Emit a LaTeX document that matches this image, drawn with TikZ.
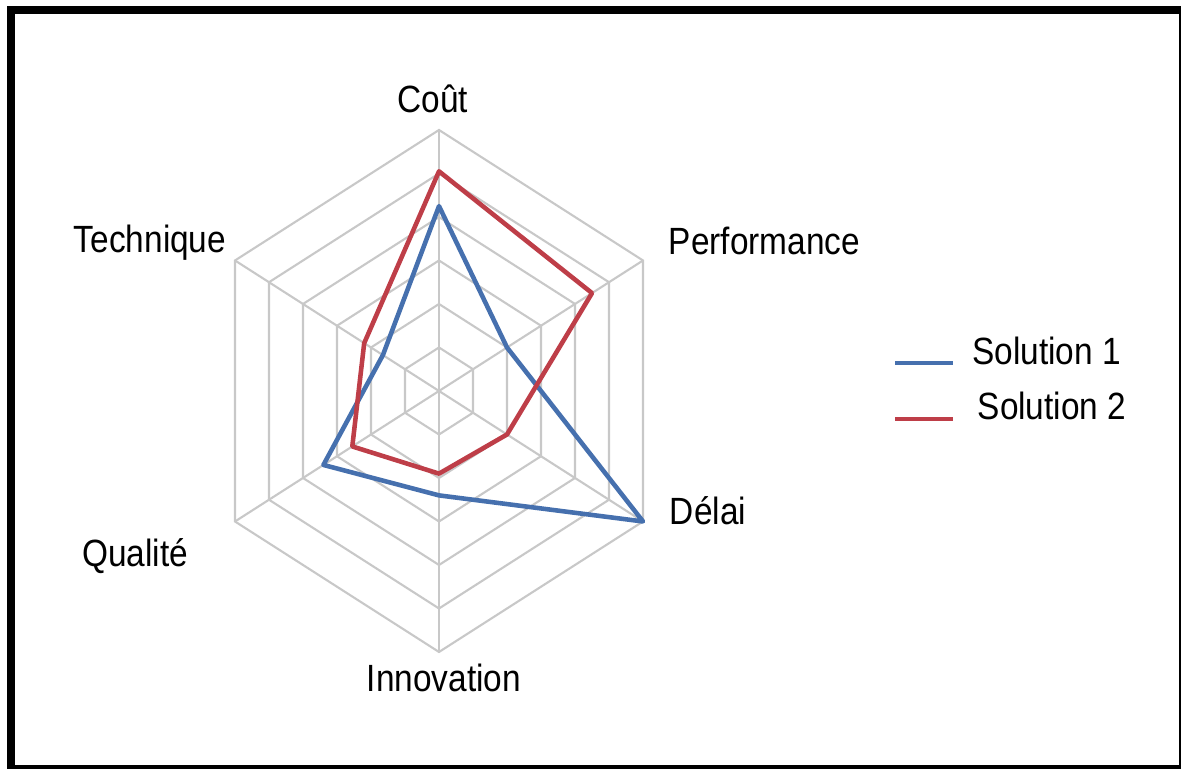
\documentclass[tikz,border=0pt]{standalone}
\usepackage{fontspec}
\setmainfont{Liberation Sans}
\definecolor{solblue}{RGB}{70,112,174}
\definecolor{solred}{RGB}{190,62,72}
\definecolor{gridgray}{RGB}{200,200,200}

\begin{document}
\begin{tikzpicture}[lbl/.style = {font=\fontsize{10.8}{13}\selectfont, xscale=0.88, transform shape, inner sep=0pt, anchor=base},
                    grid/.style = {draw=gridgray, line width=0.6pt},
                    sol1/.style = {draw=solblue, line width=1.3pt, line join=round},
                    sol2/.style = {draw=solred, line width=1.3pt, line join=round}]
                \useasboundingbox (0,0) rectangle (11.81,7.69);
                \begin{scope}
                    \clip (0,0) rectangle (11.81,7.69);
                    \draw[line width=0.08cm] (0.11,7.59) rectangle (11.83,0.0);
                \end{scope}

                % radar grid
                \begin{scope}[shift={(4.39,3.78)}, x=0.3926cm, y=0.435cm]
                    \coordinate (O) at (0,0);
                    \foreach \r in {1,...,6}
                        \draw[grid] (90:\r) -- (30:\r) -- (-30:\r) -- (-90:\r) -- (210:\r) -- (150:\r) -- cycle;
                    \foreach \a/\n in {90/ax1, 30/ax2, -30/ax3, -90/ax4, 210/ax5, 150/ax6} {
                        \coordinate (\n) at (\a:6);
                        \draw[grid] (O) -- (\n);
                    }

                    % Solution 1
                    \foreach \a/\r [count=\i] in {90/4.25, 30/2, -30/6, -90/2.4, 210/3.4, 150/1.65}
                        \coordinate (a\i) at (\a:\r);
                    % Solution 2
                    \foreach \a/\r [count=\i] in {90/5.05, 30/4.5, -30/2, -90/1.9, 210/2.55, 150/2.2}
                        \coordinate (b\i) at (\a:\r);

                    \draw[sol1] (a1) -- (a2) -- (a3) -- (a4) -- (a5) -- (a6) -- cycle;
                    \draw[sol2] (b1) -- (b2) -- (b3) -- (b4) -- (b5) -- (b6) -- cycle;
                \end{scope}

                \node[lbl] at (4.33, 6.56) (cout) {Coût};
                \node[lbl] at (7.645, 5.14) (perf) {Performance};
                \node[lbl] at (7.08, 2.44) (delai) {Délai};
                \node[lbl] at (4.44, 0.77) (innov) {Innovation};
                \node[lbl] at (1.35, 2.02) (qual) {Qualité};
                \node[lbl] at (1.50, 5.16) (tech) {Technique};

                % legend
                \coordinate (l1a) at (8.95, 4.06);
                \coordinate (l1b) at (9.53, 4.06);
                \coordinate (l2a) at (8.95, 3.50);
                \coordinate (l2b) at (9.53, 3.50);
                \draw[solblue, line width=0.9pt] (l1a) -- (l1b);
                \draw[solred, line width=0.9pt] (l2a) -- (l2b);
                \node[lbl] at (10.465, 4.04) (leg1) {Solution 1};
                \node[lbl] at (10.52, 3.49) (leg2) {Solution 2};
            \end{tikzpicture}
\end{document}
